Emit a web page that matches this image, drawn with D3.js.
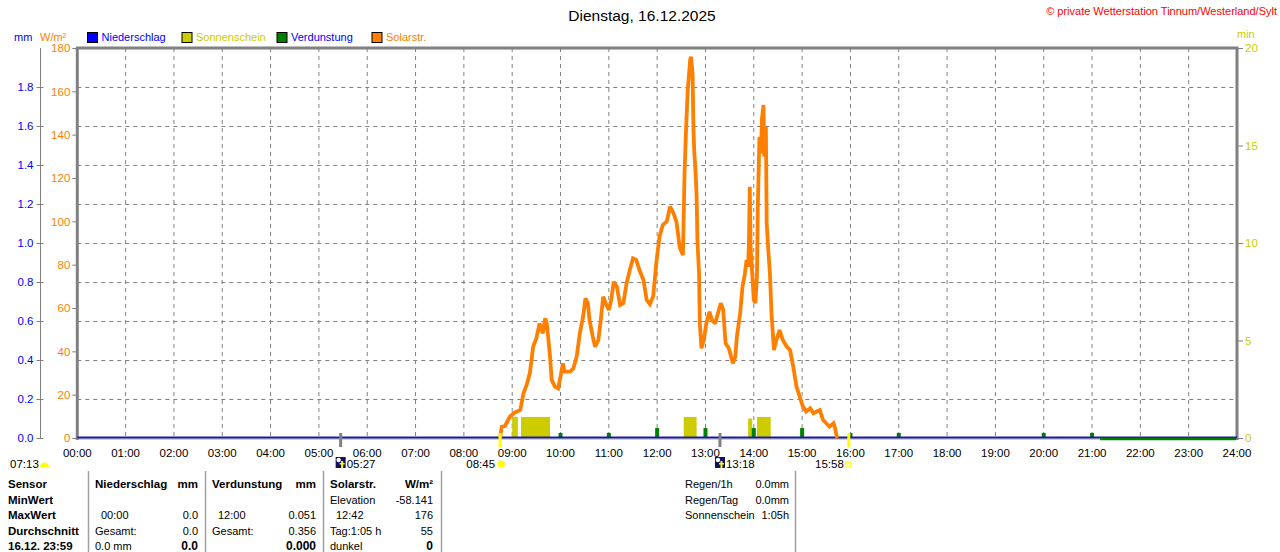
<!DOCTYPE html>
<html><head><meta charset="utf-8">
<script src="https://cdn.jsdelivr.net/npm/d3@7"></script>
<style>
html,body{margin:0;padding:0;background:#fff;}
svg{display:block;font-family:"Liberation Sans",Arial,sans-serif;}
</style></head>
<body>
<svg id="chart" width="1280" height="552"></svg>
<script>
// ---------- DATA ----------
const title = "Dienstag, 16.12.2025";
const copyright = "\u00A9 private Wetterstation Tinnum/Westerland/Sylt";
const hourLabels = d3.range(0, 25).map(h => String(h).padStart(2, "0") + ":00");
const mmTicks = [0, 0.2, 0.4, 0.6, 0.8, 1.0, 1.2, 1.4, 1.6, 1.8];
const solarTicks = [0, 20, 40, 60, 80, 100, 120, 140, 160, 180];
const minTicks = [0, 5, 10, 15, 20];
const gridMm = [0.2, 0.4, 0.6, 0.8, 1.0, 1.2, 1.4, 1.6, 1.8];

const solarTimes = ["08:45","08:47","08:51","08:57","09:03","09:10","09:14","09:18","09:22","09:26","09:30","09:34","09:38","09:41","09:43","09:47","09:49","09:53","09:57","10:00","10:03","10:05","10:12","10:16","10:20","10:24","10:28","10:31","10:34","10:36","10:40","10:43","10:47","10:50","10:53","10:56","11:00","11:03","11:06","11:10","11:14","11:18","11:22","11:26","11:30","11:34","11:38","11:43","11:47","11:51","11:55","11:59","12:03","12:07","12:12","12:16","12:20","12:24","12:28","12:32","12:34","12:36","12:38","12:41","12:42","12:44","12:45","12:46","12:48","12:49","12:50","12:52","12:53","12:55","12:58","13:01","13:05","13:08","13:12","13:16","13:19","13:22","13:25","13:29","13:34","13:37","13:39","13:43","13:46","13:49","13:51","13:53","13:54","13:55","13:56","13:58","14:00","14:02","14:04","14:05","14:07","14:09","14:10","14:12","14:13","14:15","14:16","14:18","14:20","14:22","14:25","14:28","14:32","14:36","14:41","14:45","14:49","14:53","14:57","15:01","15:05","15:10","15:14","15:18","15:22","15:26","15:30","15:34","15:39","15:41","15:43","15:44"];
const solarValues = [0,5.2,5.5,9.8,11.7,12.9,20.6,24.5,30.1,42.1,46,52.9,48.3,55.2,52.9,37.5,26.8,23.7,22.9,28.3,34.5,30.6,30.6,32.2,37.5,48.3,56,64.5,62.2,54.5,46.8,42.1,45.2,54.5,65.2,62.2,59.1,63.7,72.1,69.8,61.4,62.2,71.4,77.5,82.9,82.2,77.5,72.9,63.7,61.8,65.2,81,93,98.3,100,106.8,104,99.8,88,84.5,122,143.7,160.6,174.5,176,168.3,143.7,132.9,120.6,111.4,91.4,76,52.9,41.4,45.2,52.9,58.3,54.5,52.9,58.3,62.2,59.1,43.7,41.4,34.5,37.5,46.8,57.5,69.8,76,82.2,79.1,91.4,116,88.3,76,63.7,62.2,76,106.8,139,131.4,146.8,153.7,129.8,143.7,99.1,86.8,76,57.5,40.6,45.2,49.8,45.2,42.1,40.6,32.9,23.7,19.1,14.5,12.2,13.7,11.4,12.2,12.9,8.3,6.8,5.2,6.8,4.5,0.6,0];

const sunStart = ["09:00","09:11","12:33","13:53","14:04"];
const sunEnd   = ["09:07","09:47","12:49","13:58","14:21"];
const sunValues = [1.08, 1.08, 1.08, 1.0, 1.08];

const evapTimes = ["10:00","11:00","12:00","13:00","14:00","15:00","16:00","17:00","20:00","21:00"];
const evapValues = [0.026,0.026,0.051,0.051,0.051,0.051,0.026,0.026,0.026,0.026];
const evapFlatStart = "21:10";

const legendNames = ["Niederschlag","Sonnenschein","Verdunstung","Solarstr."];
const legendColors = ["#0000ff","#cccc00","#008000","#ff8000"];
const legendTextColors = ["#0000ff","#cccc00","#0000ff","#ff8000"];

const astroTimes = ["05:27","08:45","13:18","15:58"];
const astroKinds = ["moon","sun","moon","sunset"];

const sensorRows = ["Sensor","MinWert","MaxWert","Durchschnitt","16.12. 23:59"];
const niederLeft = ["", "", "00:00", "Gesamt:", "0.0 mm"];
const niederRight = ["", "", "0.0", "0.0", "0.0"];
const verdLeft = ["", "", "12:00", "Gesamt:", ""];
const verdRight = ["", "", "0.051", "0.356", "0.000"];
const solLeft = ["", "Elevation", "12:42", "Tag:1:05 h", "dunkel"];
const solRight = ["", "-58.141", "176", "55", "0"];
const regenLabels = ["Regen/1h","Regen/Tag","Sonnenschein"];
const regenValues = ["0.0mm","0.0mm","1:05h"];

// ---------- SCALES ----------
const svg = d3.select("#chart");
const L = 77.3, R = 1237, T = 48, B = 438;
const toMin = s => { const [h, m] = s.split(":").map(Number); return h * 60 + m; };
const x = d3.scaleLinear().domain([0, 1440]).range([L, R]);
const yMm = d3.scaleLinear().domain([0, 2]).range([B, T]);
const ySol = d3.scaleLinear().domain([0, 180]).range([B, T]);
const yMin = d3.scaleLinear().domain([0, 20]).range([B, T]);
const grey = "#808080";

// grid
svg.append("g").selectAll("line").data(d3.range(1, 24)).join("line")
  .attr("x1", d => x(d * 60)).attr("x2", d => x(d * 60)).attr("y1", T).attr("y2", B)
  .attr("stroke", grey).attr("stroke-width", 1).attr("stroke-dasharray", "4,4");
svg.append("g").selectAll("line").data(gridMm).join("line")
  .attr("x1", L).attr("x2", R).attr("y1", d => Math.round(yMm(d)) + 0.5).attr("y2", d => Math.round(yMm(d)) + 0.5)
  .attr("stroke", grey).attr("stroke-width", 1).attr("stroke-dasharray", "4,4");

// frame
svg.append("line").attr("x1", L - 1.5).attr("x2", R + 1.5).attr("y1", T).attr("y2", T).attr("stroke", grey).attr("stroke-width", 3);
svg.append("line").attr("x1", L).attr("x2", L).attr("y1", T).attr("y2", B + 2).attr("stroke", grey).attr("stroke-width", 3);
svg.append("line").attr("x1", R).attr("x2", R).attr("y1", T).attr("y2", B + 2).attr("stroke", grey).attr("stroke-width", 3);

// left mm axis
const gMm = svg.append("g").attr("transform", "translate(40.5,0)");
gMm.call(d3.axisLeft(yMm).tickValues(mmTicks).tickFormat(d3.format(".1f")).tickSize(4).tickPadding(3));
gMm.select(".domain").attr("stroke", grey).attr("d", `M0,${T}V${B}`);
gMm.selectAll(".tick line").attr("stroke", grey).attr("x2", 3).attr("x1", -4);
gMm.selectAll(".tick text").attr("fill", "#0000ff").attr("font-size", 11.5).attr("font-family", "Liberation Sans, Arial");

// orange axis
const gSol = svg.append("g").attr("transform", `translate(${L - 1},0)`);
gSol.call(d3.axisLeft(ySol).tickValues(solarTicks).tickSize(4).tickPadding(2));
gSol.select(".domain").remove();
gSol.selectAll(".tick line").attr("stroke", grey);
gSol.selectAll(".tick text").attr("fill", "#ff8000").attr("font-size", 11.5).attr("font-family", "Liberation Sans, Arial");

// right min axis
const gMin = svg.append("g").attr("transform", `translate(${R + 1},0)`);
gMin.call(d3.axisRight(yMin).tickValues(minTicks).tickSize(5).tickPadding(2));
gMin.select(".domain").remove();
gMin.selectAll(".tick line").attr("stroke", grey);
gMin.selectAll(".tick text").attr("fill", "#cccc00").attr("font-size", 11.5).attr("font-family", "Liberation Sans, Arial");

// x axis labels
svg.append("g").selectAll("text").data(hourLabels).join("text")
  .attr("x", (d, i) => x(i * 60)).attr("y", 457).attr("text-anchor", "middle")
  .attr("font-size", 11.5).attr("fill", "#000").text(d => d);

// sunshine bars
svg.append("g").selectAll("rect").data(sunStart).join("rect")
  .attr("x", (d, i) => x(toMin(d))).attr("width", (d, i) => x(toMin(sunEnd[i])) - x(toMin(d)))
  .attr("y", (d, i) => yMin(sunValues[i])).attr("height", (d, i) => B - yMin(sunValues[i]))
  .attr("fill", "#cccc00");

// evaporation spikes
svg.append("g").selectAll("rect").data(evapTimes).join("rect")
  .attr("x", d => x(toMin(d)) - 2).attr("width", 4)
  .attr("y", (d, i) => yMm(evapValues[i])).attr("height", (d, i) => B - yMm(evapValues[i]))
  .attr("fill", "#008000");

// baseline lines
svg.append("line").attr("x1", L).attr("x2", R).attr("y1", B + 1).attr("y2", B + 1).attr("stroke", "#a0a0a0").attr("stroke-width", 1);
svg.append("line").attr("x1", L).attr("x2", R).attr("y1", B - 0.5).attr("y2", B - 0.5).attr("stroke", "#1a1aa0").attr("stroke-width", 2);
svg.append("line").attr("x1", x(toMin(evapFlatStart))).attr("x2", R - 1).attr("y1", B + 1).attr("y2", B + 1).attr("stroke", "#008000").attr("stroke-width", 2.5);

// solar line
const solarData = solarTimes.map((t, i) => ({ t: toMin(t), v: solarValues[i] }));
svg.append("path").datum(solarData)
  .attr("d", d3.line().x(d => x(d.t)).y(d => ySol(d.v)))
  .attr("fill", "none").attr("stroke", "#ff8000").attr("stroke-width", 3.8).attr("stroke-linejoin", "miter").attr("stroke-miterlimit", 2);

// astro markers
astroTimes.forEach((t, i) => {
  const xp = x(toMin(t));
  const kind = astroKinds[i];
  const col = (kind === "moon") ? grey : "#ffff00";
  svg.append("line").attr("x1", xp).attr("x2", xp).attr("y1", 433).attr("y2", 447).attr("stroke", col).attr("stroke-width", 3);
  if (kind === "moon") {
    svg.append("rect").attr("x", xp - 5).attr("y", 457).attr("width", 10).attr("height", 11).attr("fill", "#101060");
    svg.append("circle").attr("cx", xp - 2).attr("cy", 460).attr("r", 2.2).attr("fill", "#ffffff");
    svg.append("rect").attr("x", xp + 0.5).attr("y", 461).attr("width", 2).attr("height", 7).attr("fill", "#ffff00");
    svg.append("rect").attr("x", xp - 1).attr("y", 463).attr("width", 5).attr("height", 1.5).attr("fill", "#ffff00");
    svg.append("text").attr("x", xp + 6).attr("y", 468).attr("font-size", 11.5).text(t);
  } else if (kind === "sun") {
    svg.append("text").attr("x", xp - 5).attr("y", 468).attr("font-size", 11.5).attr("text-anchor", "end").text(t);
    svg.append("circle").attr("cx", xp + 1).attr("cy", 464).attr("r", 3.5).attr("fill", "#ffff00").attr("stroke", "#ffee55").attr("stroke-width", 1.5).attr("stroke-dasharray", "1,1");
  } else {
    svg.append("text").attr("x", xp - 5).attr("y", 468).attr("font-size", 11.5).attr("text-anchor", "end").text(t);
    svg.append("rect").attr("x", xp - 3).attr("y", 462).attr("width", 5).attr("height", 5).attr("fill", "none").attr("stroke", "#ffff00").attr("stroke-width", 1.2);
  }
});
// left note with half sun
svg.append("text").attr("x", 10).attr("y", 468).attr("font-size", 11.5).text("07:13");
svg.append("path").attr("d", "M40,467 A4.5,4.5 0 0 1 49,467 Z").attr("fill", "#ffff00");

// header
svg.append("text").attr("x", 642).attr("y", 21).attr("text-anchor", "middle").attr("font-size", 15.5).attr("fill", "#000").text(title);
svg.append("text").attr("x", 1277).attr("y", 15).attr("text-anchor", "end").attr("font-size", 11).attr("fill", "#ff0000").text(copyright);
svg.append("text").attr("x", 14).attr("y", 40.5).attr("font-size", 11).attr("fill", "#0000ff").text("mm");
svg.append("text").attr("x", 40).attr("y", 40.5).attr("font-size", 11).attr("fill", "#ff8000").text("W/m\u00B2");
svg.append("text").attr("x", 1237).attr("y", 37.5).attr("font-size", 11).attr("fill", "#cccc00").text("min");

// legend
const legX = [87.5, 182, 277, 372];
legendNames.forEach((n, i) => {
  svg.append("rect").attr("x", legX[i]).attr("y", 32.5).attr("width", 10).attr("height", 10)
    .attr("fill", legendColors[i]).attr("stroke", "#000").attr("stroke-width", 1);
  svg.append("text").attr("x", legX[i] + 14).attr("y", 41).attr("font-size", 11).attr("fill", legendTextColors[i]).text(n);
});

// table
const rowY = [488, 503.5, 519, 534.5, 550];
[88, 205, 323, 441, 795].forEach(v => {
  svg.append("line").attr("x1", v + 0.5).attr("x2", v + 0.5).attr("y1", 471).attr("y2", 552).attr("stroke", "#a0a0a0").attr("stroke-width", 1.5);
});
sensorRows.forEach((c, i) => {
  svg.append("text").attr("x", 8).attr("y", rowY[i]).attr("font-size", 11.5).attr("font-weight", "bold").text(c);
});
const hdr = [["Niederschlag", 95, "mm", 198], ["Verdunstung", 212, "mm", 316], ["Solarstr.", 330, "W/m\u00B2", 433]];
hdr.forEach(h => {
  svg.append("text").attr("x", h[1]).attr("y", rowY[0]).attr("font-size", 11.5).attr("font-weight", "bold").text(h[0]);
  svg.append("text").attr("x", h[3]).attr("y", rowY[0]).attr("font-size", 11.5).attr("font-weight", "bold").attr("text-anchor", "end").text(h[2]);
});
function colText(arrL, xl, arrR, xr) {
  for (let i = 1; i < 5; i++) {
    const boldR = i === 4;
    if (arrL[i]) svg.append("text").attr("x", (arrL[i].match(/^\d\d:\d\d$/) ? xl + 6 : xl)).attr("y", rowY[i]).attr("font-size", 11).text(arrL[i]);
    if (arrR[i]) svg.append("text").attr("x", xr).attr("y", rowY[i]).attr("font-size", boldR ? 12 : 11).attr("font-weight", boldR ? "bold" : "normal").attr("text-anchor", "end").text(arrR[i]);
  }
}
colText(niederLeft, 95, niederRight, 198);
colText(verdLeft, 212, verdRight, 316);
colText(solLeft, 330, solRight, 433);
regenLabels.forEach((r, i) => {
  svg.append("text").attr("x", 685).attr("y", rowY[i]).attr("font-size", 11).text(r);
  svg.append("text").attr("x", 789).attr("y", rowY[i]).attr("font-size", 11).attr("text-anchor", "end").text(regenValues[i]);
});
</script>
</body></html>
